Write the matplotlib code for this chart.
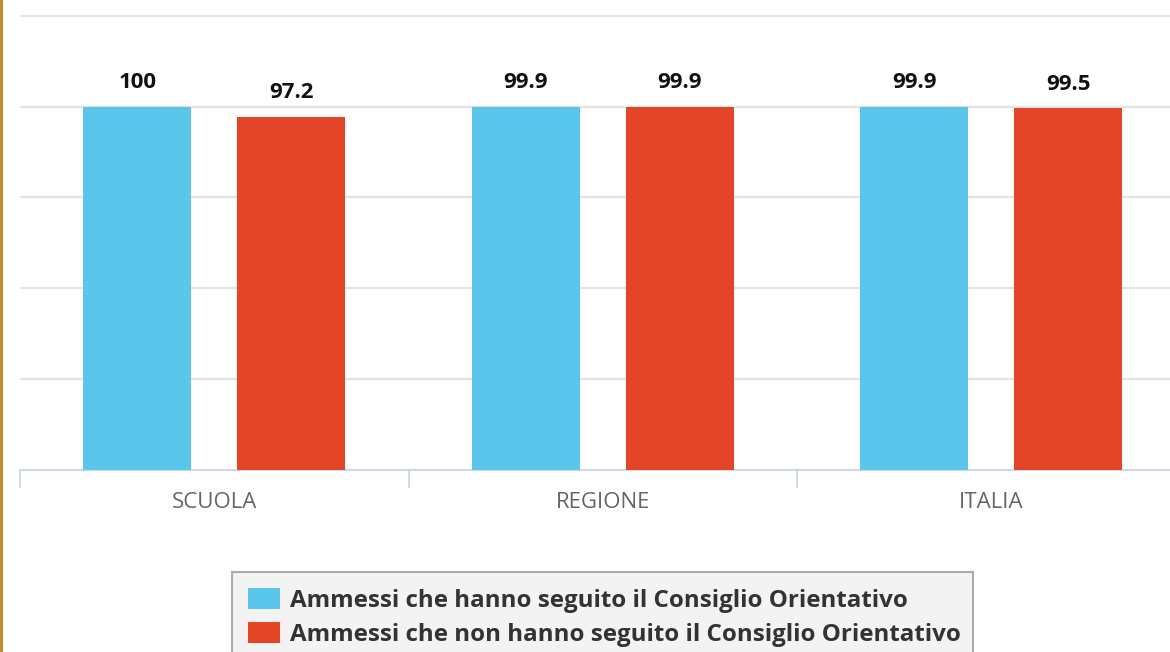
import matplotlib
matplotlib.use("Agg")
import matplotlib.pyplot as plt
from matplotlib.lines import Line2D
import numpy as np

categories = ["SCUOLA", "REGIONE", "ITALIA"]
seguito = [100, 99.9, 99.9]
non_seguito = [97.2, 99.9, 99.5]
series_names = ["Ammessi che hanno seguito il Consiglio Orientativo",
                "Ammessi che non hanno seguito il Consiglio Orientativo"]
labels_seguito = ["100", "99.9", "99.9"]
labels_non = ["97.2", "99.9", "99.5"]

W, H = 1170, 652
plt.rcParams['font.family'] = ['Open Sans', 'DejaVu Sans']
fig = plt.figure(figsize=(W/100, H/100), dpi=100)
left_px = 20
ax = fig.add_axes([left_px/W, (H-470)/H, (W-left_px)/W, 470/H])

x = np.arange(len(categories))
bw = 0.278
off = 0.198
blue = "#5bc6ec"
red = "#e34526"
b1 = ax.bar(x - off, seguito, bw, color=blue, zorder=3, label=series_names[0])
b2 = ax.bar(x + off, non_seguito, bw, color=red, zorder=3, label=series_names[1])

for bars, labs in ((b1, labels_seguito), (b2, labels_non)):
    for rect, lab in zip(bars, labs):
        ax.annotate(lab, (rect.get_x() + rect.get_width()/2, rect.get_height()),
                    xytext=(0, 13.3), textcoords="offset points",
                    ha="center", va="baseline", fontsize=16, fontweight="bold",
                    color="#111111")

ax.set_yticks([0, 25, 50, 75, 100, 125])
ax.yaxis.grid(True, color="#e3e3e3", linewidth=1.6, zorder=0)
ax.set_yticklabels([])
ax.tick_params(axis="y", length=0)

ax.set_xticks(x)
ax.set_xticklabels(categories, fontsize=16, color="#666666")
ax.tick_params(axis="x", which="major", length=0, pad=15.5)
ax.set_xticks(np.arange(len(categories) + 1) - 0.5, minor=True)
ax.tick_params(axis="x", which="minor", length=13, width=1.3, color="#ccd6eb")

ax.set_xlim(-0.5, -0.5 + (W-left_px)/388.5)
ax.set_ylim(0, 470/3.635)

for s in ("top", "right", "left"):
    ax.spines[s].set_visible(False)
ax.spines["bottom"].set_color("#ccd6eb")
ax.spines["bottom"].set_linewidth(1.3)
ax.set_axisbelow(True)

fs = 17.4
em = fs * 100 / 72
leg = ax.legend(handles=[b1, b2], loc="upper left",
                bbox_to_anchor=(232/W, 1 - 572/H, (973-232)/W, 0),
                bbox_transform=fig.transFigure, mode="expand",
                prop={"weight": "bold", "size": fs},
                handlelength=32/em, handleheight=23/em, handletextpad=0.38,
                borderpad=0.68, labelspacing=0.36, borderaxespad=0,
                fancybox=False, frameon=True)
leg.get_frame().set_facecolor("#f0f0f0")
leg.get_frame().set_edgecolor("#999999")
leg.get_frame().set_linewidth(1.5)
for t in leg.get_texts():
    t.set_color("#333333")

fig.add_artist(Line2D([1.2/W, 1.2/W], [0, 1], transform=fig.transFigure,
                      color="#c58c2c", linewidth=2.2))

fig.savefig("out.png", dpi=100)
